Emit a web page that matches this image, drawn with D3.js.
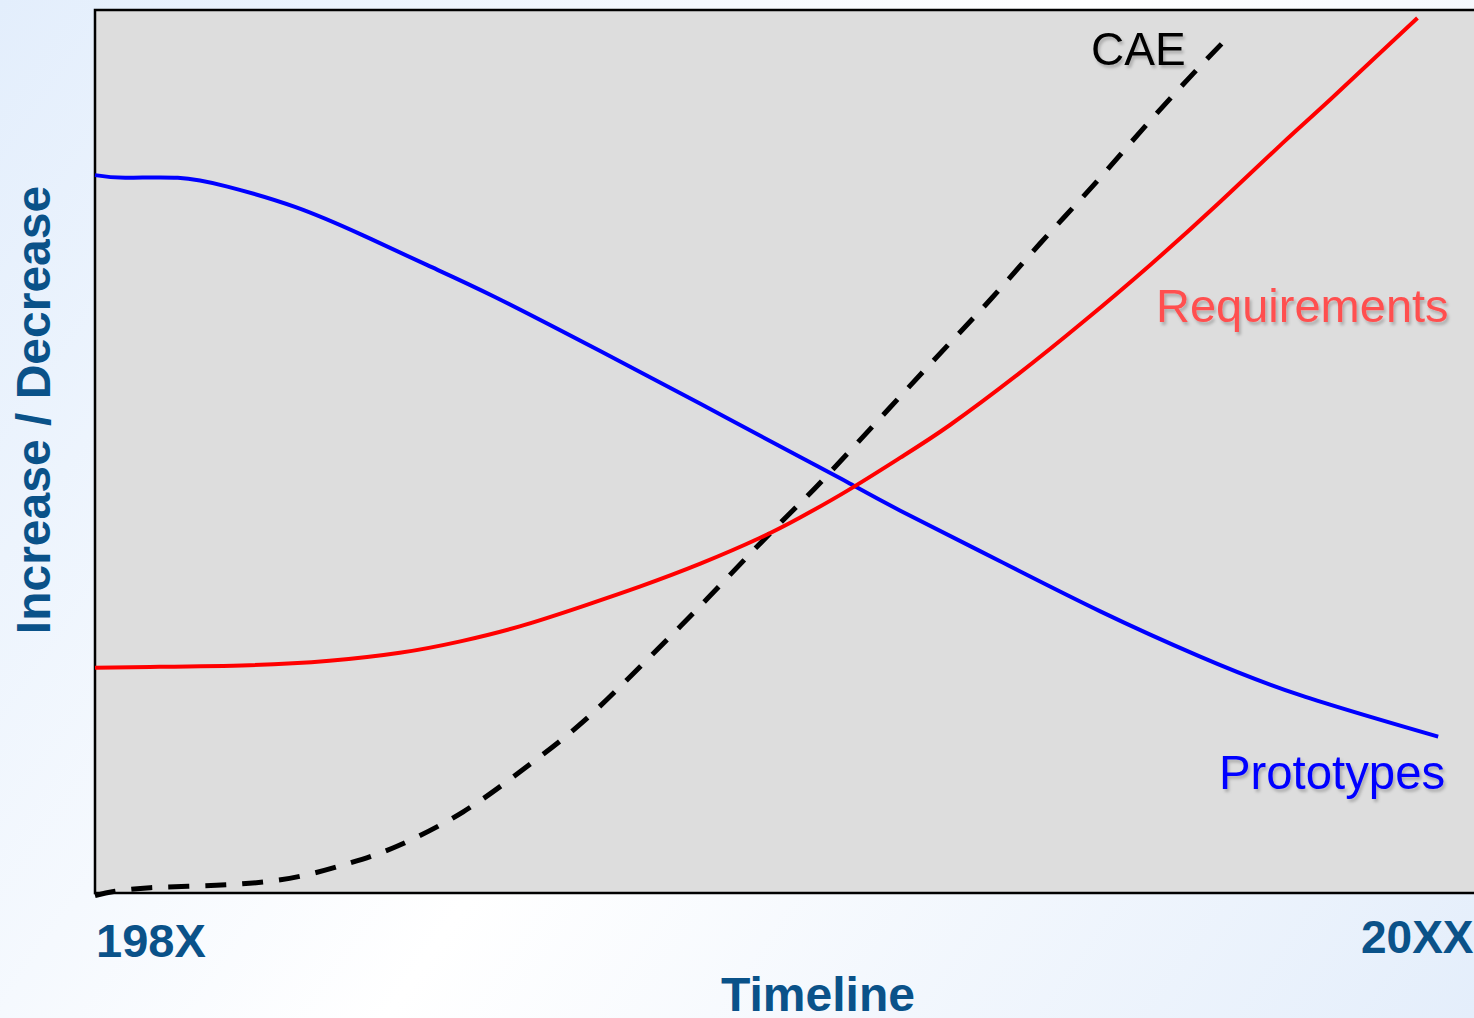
<!DOCTYPE html>
<html>
<head>
<meta charset="utf-8">
<script src="https://cdn.jsdelivr.net/npm/d3@7"></script>
<style>
  html, body { margin: 0; padding: 0; }
  body { width: 1474px; height: 1018px; overflow: hidden; }
  svg { display: block; font-family: "Liberation Sans", Arial, sans-serif; }
</style>
</head>
<body>
<svg id="chart" width="1474" height="1018"></svg>
<script>
// Timeline position (0 = 198X, 100 = 20XX) and relative level (0–100)
const cae = [
  [0, -0.3], [1.45, 0.2], [4.0, 0.6], [7.6, 0.8], [11.2, 1.1], [14.9, 1.9],
  [18.5, 3.4], [21.9, 5.3], [26.7, 9.2], [31.3, 14.3], [35.4, 19.4],
  [39.7, 25.9], [43.7, 32.2], [47.5, 38.4], [50.4, 43.0], [53.1, 47.3],
  [57.6, 54.9], [62.0, 62.3], [65.1, 67.5], [68.5, 73.5], [72.2, 79.8],
  [75.8, 86.2], [79.4, 92.4], [82.4, 97.3]
];
const prototypes = [
  [0, 81.3], [2.2, 81.0], [6.0, 81.0], [9.6, 80.0], [14.5, 77.7],
  [19.4, 74.5], [24.1, 71.1], [29.0, 67.5], [36.6, 61.4], [43.9, 55.4],
  [51.1, 49.4], [54.6, 46.5], [58.4, 43.3], [65.6, 37.6], [72.9, 31.9],
  [80.1, 26.8], [87.4, 22.4], [97.4, 17.7]
];
const requirements = [
  [0, 25.5], [4.0, 25.6], [11.2, 25.8], [17.0, 26.3], [22.1, 27.2],
  [26.5, 28.5], [30.8, 30.2], [35.4, 32.5], [39.5, 34.7], [43.9, 37.3],
  [48.2, 40.2], [51.1, 42.5], [54.6, 45.6], [58.4, 49.3], [62.0, 53.0],
  [66.9, 58.7], [71.6, 64.6], [76.5, 71.1], [81.4, 78.0], [86.1, 84.9],
  [89.6, 89.9], [95.9, 99.1]
];
const tickLabels = ["198X", "20XX"];
const xTitle = "Timeline";
const yTitle = "Increase / Decrease";
const seriesNames = ["CAE", "Requirements", "Prototypes"];

const svg = d3.select("#chart");
const W = 1474, H = 1018;
const m = { left: 95, top: 10, bottom: 893, right: 1474 };

const x = d3.scaleLinear().domain([0, 100]).range([m.left, m.right]);
const y = d3.scaleLinear().domain([0, 100]).range([m.bottom, m.top]);

const defs = svg.append("defs");
const bg = defs.append("linearGradient")
  .attr("id", "bg").attr("gradientUnits", "userSpaceOnUse")
  .attr("x1", 0).attr("y1", 0).attr("x2", W).attr("y2", H);
bg.append("stop").attr("offset", "0").attr("stop-color", "#e3eefc");
bg.append("stop").attr("offset", "0.5").attr("stop-color", "#ffffff");
bg.append("stop").attr("offset", "1").attr("stop-color", "#e4eefb");

const shadow = defs.append("filter").attr("id", "shadow")
  .attr("x", "-10%").attr("y", "-20%").attr("width", "130%").attr("height", "160%");
shadow.append("feDropShadow")
  .attr("dx", 2).attr("dy", 3).attr("stdDeviation", 1.8)
  .attr("flood-color", "#000").attr("flood-opacity", 0.22);

defs.append("clipPath").attr("id", "plotClip")
  .append("rect").attr("x", m.left - 2).attr("y", m.top)
  .attr("width", m.right - m.left + 4).attr("height", m.bottom - m.top + 6);

svg.append("rect").attr("width", W).attr("height", H).attr("fill", "url(#bg)");

// plot panel
svg.append("rect")
  .attr("x", m.left).attr("y", m.top)
  .attr("width", m.right - m.left + 10).attr("height", m.bottom - m.top)
  .attr("fill", "#dddddd").attr("stroke", "#000").attr("stroke-width", 2.5);

const line = d3.line()
  .x(d => x(d[0])).y(d => y(d[1]))
  .curve(d3.curveNatural);

const g = svg.append("g").attr("clip-path", "url(#plotClip)");

g.append("path").datum(cae)
  .attr("d", line).attr("fill", "none")
  .attr("stroke", "#000").attr("stroke-width", 5)
  .attr("stroke-dasharray", "21,16");

g.append("path").datum(prototypes)
  .attr("d", line).attr("fill", "none")
  .attr("stroke", "#0000ff").attr("stroke-width", 4);

g.append("path").datum(requirements)
  .attr("d", line).attr("fill", "none")
  .attr("stroke", "#ff0000").attr("stroke-width", 4);

// series labels
const labels = svg.append("g").attr("filter", "url(#shadow)");
labels.append("text").attr("x", 1091).attr("y", 65)
  .attr("font-size", 46).attr("fill", "#000").text(seriesNames[0]);
labels.append("text").attr("x", 1156).attr("y", 322)
  .attr("font-size", 47).attr("fill", "#ff5050").text(seriesNames[1]);
labels.append("text").attr("x", 1219).attr("y", 789)
  .attr("font-size", 47.3).attr("fill", "#0000ff").text(seriesNames[2]);

// axis labels
const axisColor = "#0a5289";
svg.append("text").attr("x", x(0) + 1).attr("y", 957)
  .attr("font-size", 47).attr("font-weight", "bold").attr("fill", axisColor)
  .text(tickLabels[0]);
svg.append("text").attr("x", x(100) - 0.5).attr("y", 953)
  .attr("text-anchor", "end")
  .attr("font-size", 46).attr("font-weight", "bold").attr("fill", axisColor)
  .text(tickLabels[1]);

svg.append("text").attr("x", 818).attr("y", 1011)
  .attr("text-anchor", "middle")
  .attr("font-size", 48).attr("font-weight", "bold").attr("fill", axisColor)
  .text(xTitle);

svg.append("text")
  .attr("transform", "translate(50,410) rotate(-90)")
  .attr("text-anchor", "middle")
  .attr("font-size", 48).attr("font-weight", "bold").attr("fill", axisColor)
  .text(yTitle);
</script>
</body>
</html>
